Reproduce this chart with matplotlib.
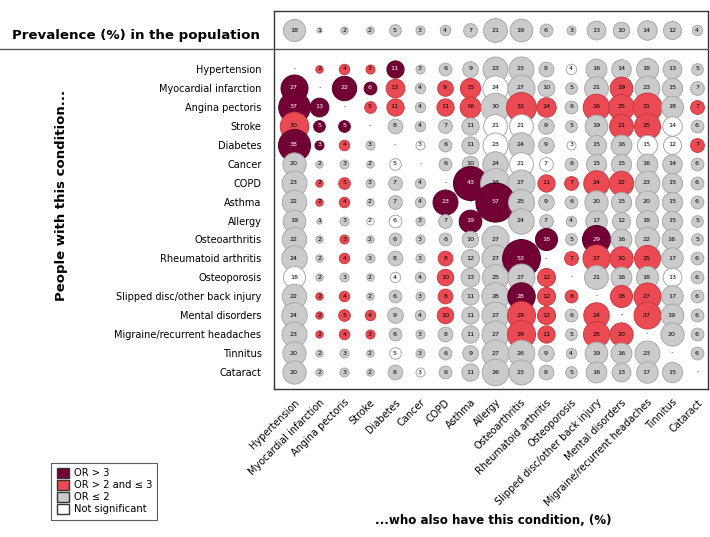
import matplotlib.pyplot as plt
from matplotlib.patches import Patch
from matplotlib.lines import Line2D
import numpy as np

conditions = ["Hypertension", "Myocardial infarction", "Angina pectoris", "Stroke",
              "Diabetes", "Cancer", "COPD", "Asthma", "Allergy", "Osteoarthritis",
              "Rheumatoid arthritis", "Osteoporosis", "Slipped disc/other back injury",
              "Mental disorders", "Migraine/recurrent headaches", "Tinnitus", "Cataract"]

prevalence = [18, 1, 2, 2, 5, 3, 4, 7, 21, 19, 6, 3, 13, 10, 14, 12, 4]

# rows: people with this condition; cols: who also have this condition (%)
N = None
pct = [
    [N, 2, 4, 3, 11, 3, 6, 9, 23, 23, 8, 4, 16, 14, 18, 13, 5],
    [27, N, 22, 6, 13, 4, 9, 15, 24, 27, 10, 5, 21, 19, 23, 15, 7],
    [37, 13, N, 5, 11, 4, 11, 16, 30, 33, 14, 6, 26, 25, 31, 18, 7],
    [30, 5, 5, N, 8, 4, 7, 11, 21, 21, 9, 5, 19, 21, 25, 14, 6],
    [38, 3, 4, 3, N, 3, 6, 11, 23, 24, 9, 3, 15, 16, 15, 12, 7],
    [20, 2, 3, 2, 5, N, 6, 10, 24, 21, 7, 6, 15, 15, 16, 14, 6],
    [23, 2, 5, 3, 7, 4, N, 43, 33, 27, 11, 7, 24, 22, 23, 15, 6],
    [22, 2, 4, 2, 7, 4, 23, N, 57, 25, 9, 6, 20, 15, 20, 15, 6],
    [19, 1, 3, 2, 6, 3, 7, 19, N, 24, 7, 4, 17, 12, 18, 15, 5],
    [22, 2, 3, 2, 6, 3, 6, 10, 27, N, 18, 5, 29, 16, 22, 16, 5],
    [24, 2, 4, 3, 8, 3, 8, 12, 27, 53, N, 7, 27, 20, 25, 17, 6],
    [18, 2, 3, 2, 4, 4, 10, 13, 25, 27, 12, N, 21, 16, 18, 13, 6],
    [22, 2, 4, 2, 6, 3, 8, 11, 28, 28, 12, 6, N, 18, 27, 17, 6],
    [24, 2, 5, 4, 9, 4, 10, 11, 27, 29, 12, 6, 24, N, 27, 19, 6],
    [23, 2, 4, 3, 6, 3, 8, 11, 27, 29, 11, 5, 25, 20, N, 20, 6],
    [20, 2, 3, 2, 5, 3, 6, 9, 27, 26, 9, 4, 19, 16, 23, N, 6],
    [20, 2, 3, 2, 8, 3, 6, 11, 26, 23, 8, 5, 16, 13, 17, 15, N],
]

# D: OR > 3, R: OR > 2 and <= 3, G: OR <= 2, W: not significant
odds_class = [
    ".RRRDGGGGGGWGGGGG",
    "D.DDRGRRWGGGGRGGG",
    "DD.RRGRRGRRGRRRGR",
    "RDD.GGGGWWGGGRRWG",
    "DDRG.WGGWGGWGGWWR",
    "GGGGW.GGGWWGGGGGG",
    "GRRGGG.DGGRRRRGGG",
    "GRRGGGD.DGGGGGGGG",
    "GGGWWGGD.GGGGGGGG",
    "GGRGGGGGG.DGDGGGG",
    "GGRGGGRGGD.RRRRGG",
    "WGGGWGRGGGR.GGGWG",
    "GRRGGGRGGDRR.RRGG",
    "GRRRGGRGGRRGR.RGG",
    "GRRRGGGGGRRGRR.GG",
    "GGGGWGGGGGGGGGG.G",
    "GGGGGWGGGGGGGGGG.",
]

fill = {"D": "#730034", "R": "#EC4A52", "G": "#CBCBCB", "W": "#FFFFFF"}
edge = {"D": "#5a0028", "R": "#c83a40", "G": "#A8A8A8", "W": "#A8A8A8"}

W, H = 710, 537
fig = plt.figure(figsize=(W / 100, H / 100), dpi=100)

# axes placed in pixel terms
x0, x1, y0, y1 = 274, 708, 11, 389
ax = fig.add_axes([x0 / W, 1 - y1 / H, (x1 - x0) / W, (y1 - y0) / H])

dx, dy = 25.19, 18.94   # pixel spacing of columns / rows
ax.set_xlim(-(294 - x0) / dx, 16 + (x1 - 697) / dx)
ax.set_ylim((y1 - 69) / dy, (y0 - 69) / dy)
prev_y = (30 - 69) / dy

k = 14.0  # marker area per percent

# prevalence row
for j, v in enumerate(prevalence):
    ax.scatter(j, prev_y, s=k * v, color=fill["G"], edgecolor=edge["G"],
               linewidth=0.7, zorder=2)
    ax.text(j, prev_y, str(v), ha="center", va="center", fontsize=4.6,
            color="black", zorder=3)

# main grid
for i, row in enumerate(pct):
    for j, v in enumerate(row):
        c = odds_class[i][j]
        if v is None:
            ax.text(j, i - 0.1, ".", ha="center", va="center", fontsize=5,
                    color="black", zorder=3)
            continue
        ax.scatter(j, i, s=k * v, color=fill[c], edgecolor=edge[c],
                   linewidth=0.7, zorder=2)
        ax.text(j, i, str(v), ha="center", va="center", fontsize=4.6,
                color="white" if c == "D" else "black", zorder=3)

ax.set_yticks(range(len(conditions)))
ax.set_yticklabels(conditions, fontsize=7)
ax.set_xticks(range(len(conditions)))
ax.set_xticklabels(conditions, fontsize=7, rotation=45, ha="right",
                   rotation_mode="anchor")
ax.tick_params(length=0, axis="y", pad=9)
ax.tick_params(length=0, axis="x", pad=6)
for s in ax.spines.values():
    s.set_color("#333333")
    s.set_linewidth(1.0)

# separator between prevalence row and the matrix
fig.add_artist(Line2D([0, x1 / W], [1 - 49 / H, 1 - 49 / H], color="#555555",
                      linewidth=1.0))

fig.text(12 / W, 1 - 35 / H, "Prevalence (%) in the population",
         fontsize=9.6, fontweight="bold", va="center", ha="left")
fig.text(62 / W, 1 - 195 / H, "People with this condition...", fontsize=9.5,
         fontweight="bold", rotation=90, ha="center", va="center")
fig.text(493 / W, 1 - 521 / H, "...who also have this condition, (%)",
         fontsize=8.6, fontweight="bold", ha="center", va="center")

handles = [Patch(facecolor=fill["D"], edgecolor="#333333", label="OR > 3"),
           Patch(facecolor=fill["R"], edgecolor="#333333", label="OR > 2 and \u2264 3"),
           Patch(facecolor=fill["G"], edgecolor="#333333", label="OR \u2264 2"),
           Patch(facecolor=fill["W"], edgecolor="#333333", label="Not significant")]
leg = fig.legend(handles=handles, loc="lower left",
                 bbox_to_anchor=(46 / W, 1 - 525 / H), fontsize=7.2,
                 frameon=True, fancybox=False, handlelength=1.2,
                 handleheight=1.2, handletextpad=0.5, labelspacing=0.15,
                 borderpad=0.55)
leg.get_frame().set_edgecolor("#333333")
leg.get_frame().set_linewidth(0.8)

fig.savefig("out.png", dpi=100)
